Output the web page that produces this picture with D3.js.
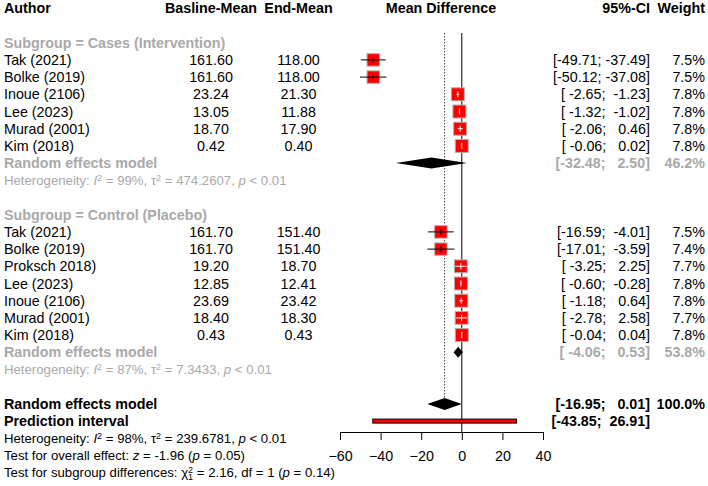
<!DOCTYPE html>
<html>
<head>
<meta charset="utf-8">
<script src="https://cdn.jsdelivr.net/npm/d3@7"></script>
<style>
  body { margin: 0; background: #fff; }
  text { font-family: "Liberation Sans", Arial, sans-serif; }
</style>
</head>
<body>
<div id="canvas"></div>
<script>
// subgroup 1: cases (intervention)
const casesAuthor = ["Tak (2021)", "Bolke (2019)", "Inoue (2106)", "Lee (2023)", "Murad (2001)", "Kim (2018)"];
const casesBase = [161.60, 161.60, 23.24, 13.05, 18.70, 0.42];
const casesEnd = [118.00, 118.00, 21.30, 11.88, 17.90, 0.40];
const casesMD = [-43.60, -43.60, -1.94, -1.17, -0.80, -0.02];
const casesLower = [-49.71, -50.12, -2.65, -1.32, -2.06, -0.06];
const casesUpper = [-37.49, -37.08, -1.23, -1.02, 0.46, 0.02];
const casesWeight = [7.5, 7.5, 7.8, 7.8, 7.8, 7.8];

// subgroup 2: control (placebo)
const ctrlAuthor = ["Tak (2021)", "Bolke (2019)", "Proksch 2018)", "Lee (2023)", "Inoue (2106)", "Murad (2001)", "Kim (2018)"];
const ctrlBase = [161.70, 161.70, 19.20, 12.85, 23.69, 18.40, 0.43];
const ctrlEnd = [151.40, 151.40, 18.70, 12.41, 23.42, 18.30, 0.43];
const ctrlMD = [-10.30, -10.30, -0.50, -0.44, -0.27, -0.10, 0.00];
const ctrlLower = [-16.59, -17.01, -3.25, -0.60, -1.18, -2.78, -0.04];
const ctrlUpper = [-4.01, -3.59, 2.25, -0.28, 0.64, 2.58, 0.04];
const ctrlWeight = [7.5, 7.4, 7.7, 7.8, 7.8, 7.7, 7.8];

// pooled estimates: [estimate, lower, upper, weight]
const casesPooled = [-14.99, -32.48, 2.50, 46.2];
const ctrlPooled = [-1.77, -4.06, 0.53, 53.8];
const overallPooled = [-8.47, -16.95, 0.01, 100.0];
const predInterval = [-43.85, 26.91];

const xTicks = [-60, -40, -20, 0, 20, 40];

const width = 708;
const height = 486;
const grey = "#a9a9a9";
const fs = 14.3, fsSmall = 13.2;

const svg = d3.select("#canvas").append("svg")
  .attr("width", width)
  .attr("height", height);

const x = d3.scaleLinear().domain([-60, 40]).range([340, 543]);
const row = d3.scaleLinear().domain([0, 27]).range([8.3, 472.7]);

const colBase = 211, colEnd = 298.5, colCI = 650, colW = 705;

function txt(xp, yp, s, opt) {
  opt = opt || {};
  return svg.append("text")
    .attr("x", xp)
    .attr("y", yp)
    .attr("dy", "0.36em")
    .attr("text-anchor", opt.anchor || "start")
    .attr("font-size", opt.size || fs)
    .attr("font-weight", opt.bold ? "bold" : "normal")
    .attr("fill", opt.color || "#000")
    .attr("xml:space", "preserve")
    .style("white-space", "pre")
    .text(s);
}

function pad(v) {
  return v.toFixed(2).padStart(6, " ");
}
function ci(lo, hi) {
  return "[" + pad(lo) + "; " + pad(hi) + "]";
}

// rich text with italic / superscript pieces
function rich(xp, yp, parts, color) {
  const t = svg.append("text")
    .attr("x", xp).attr("y", yp).attr("dy", "0.36em")
    .attr("font-size", fsSmall)
    .attr("fill", color)
    .attr("xml:space", "preserve")
    .style("white-space", "pre");
  parts.forEach(p => {
    const ts = t.append("tspan").text(p.t);
    if (p.i) ts.attr("font-style", "italic");
    if (p.sup) ts.attr("font-size", 9).attr("baseline-shift", "45%");
    if (p.sub) ts.attr("font-size", 9).attr("baseline-shift", "-30%");
    if (p.dx) ts.attr("dx", p.dx);
  });
  return t;
}

// header
txt(4, row(0), "Author", { bold: true });
txt(colBase, row(0), "Basline-Mean", { bold: true, anchor: "middle" });
txt(colEnd, row(0), "End-Mean", { bold: true, anchor: "middle" });
txt(441, row(0), "Mean Difference", { bold: true, anchor: "middle" });
txt(colCI, row(0), "95%-CI", { bold: true, anchor: "end" });
txt(colW, row(0), "Weight", { bold: true, anchor: "end" });

// reference lines
svg.append("line")
  .attr("x1", x(0)).attr("x2", x(0))
  .attr("y1", 33).attr("y2", 432)
  .attr("stroke", "#000").attr("stroke-width", 1);
svg.append("line")
  .attr("x1", x(overallPooled[0])).attr("x2", x(overallPooled[0]))
  .attr("y1", 33).attr("y2", row(23) - 6)
  .attr("stroke", "#444").attr("stroke-width", 1)
  .attr("stroke-dasharray", "1.5,1.5");

const sizeScale = d3.scaleLinear().domain([0, 7.8]).range([0, 13]);

function studies(startRow, authors, base, end, md, lower, upper, weight) {
  const data = authors.map((a, i) => ({
    a, base: base[i], end: end[i], md: md[i], lo: lower[i], hi: upper[i], w: weight[i], r: startRow + i
  }));
  data.forEach(d => {
    const yy = row(d.r);
    txt(4, yy, d.a);
    txt(colBase, yy, d.base.toFixed(2), { anchor: "middle" });
    txt(colEnd, yy, d.end.toFixed(2), { anchor: "middle" });
    txt(colCI, yy, ci(d.lo, d.hi), { anchor: "end" });
    txt(colW, yy, d.w.toFixed(1) + "%", { anchor: "end" });

    const s = sizeScale(d.w);
    svg.append("rect")
      .attr("x", x(d.md) - s / 2).attr("y", yy - s / 2)
      .attr("width", s).attr("height", s)
      .attr("fill", "#ff0000")
      .attr("stroke", "#b0b0b0").attr("stroke-width", 1);
    const inside = (x(d.hi) - x(d.lo)) < s;
    const c = inside ? "#fff" : "#000";
    svg.append("line")
      .attr("x1", x(d.lo)).attr("x2", x(d.hi))
      .attr("y1", yy).attr("y2", yy)
      .attr("stroke", c).attr("stroke-width", 1);
    svg.append("line")
      .attr("x1", x(d.md)).attr("x2", x(d.md))
      .attr("y1", yy - 3).attr("y2", yy + 3)
      .attr("stroke", c).attr("stroke-width", 1);
  });
}

function diamond(r, p, h) {
  const yy = row(r);
  svg.append("path")
    .attr("d", `M${x(p[1])},${yy}L${x(p[0])},${yy - h}L${x(p[2])},${yy}L${x(p[0])},${yy + h}Z`)
    .attr("fill", "#000");
}

// subgroup 1
txt(4, row(2), "Subgroup = Cases (Intervention)", { bold: true, color: grey });
studies(3, casesAuthor, casesBase, casesEnd, casesMD, casesLower, casesUpper, casesWeight);
txt(4, row(9), "Random effects model", { bold: true, color: grey });
txt(colCI, row(9), ci(casesPooled[1], casesPooled[2]), { bold: true, color: grey, anchor: "end" });
txt(colW, row(9), casesPooled[3].toFixed(1) + "%", { bold: true, color: grey, anchor: "end" });
diamond(9, casesPooled, 5.5);
rich(4, row(10), [
  { t: "Heterogeneity: " }, { t: "I", i: true }, { t: "2", sup: true },
  { t: " = 99%, τ" }, { t: "2", sup: true }, { t: " = 474.2607, " }, { t: "p", i: true }, { t: " < 0.01" }
], grey);

// subgroup 2
txt(4, row(12), "Subgroup = Control (Placebo)", { bold: true, color: grey });
studies(13, ctrlAuthor, ctrlBase, ctrlEnd, ctrlMD, ctrlLower, ctrlUpper, ctrlWeight);
txt(4, row(20), "Random effects model", { bold: true, color: grey });
txt(colCI, row(20), ci(ctrlPooled[1], ctrlPooled[2]), { bold: true, color: grey, anchor: "end" });
txt(colW, row(20), ctrlPooled[3].toFixed(1) + "%", { bold: true, color: grey, anchor: "end" });
diamond(20, ctrlPooled, 5.5);
rich(4, row(21), [
  { t: "Heterogeneity: " }, { t: "I", i: true }, { t: "2", sup: true },
  { t: " = 87%, τ" }, { t: "2", sup: true }, { t: " = 7.3433, " }, { t: "p", i: true }, { t: " < 0.01" }
], grey);

// overall
txt(4, row(23), "Random effects model", { bold: true });
txt(colCI, row(23), ci(overallPooled[1], overallPooled[2]), { bold: true, anchor: "end" });
txt(colW, row(23), overallPooled[3].toFixed(1) + "%", { bold: true, anchor: "end" });
diamond(23, overallPooled, 6);

txt(4, row(24), "Prediction interval", { bold: true });
txt(colCI, row(24), ci(predInterval[0], predInterval[1]), { bold: true, anchor: "end" });
svg.append("rect")
  .attr("x", x(predInterval[0])).attr("y", row(24) - 2)
  .attr("width", x(predInterval[1]) - x(predInterval[0])).attr("height", 4)
  .attr("fill", "#ff0000").attr("stroke", "#000").attr("stroke-width", 1);

rich(4, row(25), [
  { t: "Heterogeneity: " }, { t: "I", i: true }, { t: "2", sup: true },
  { t: " = 98%, τ" }, { t: "2", sup: true }, { t: " = 239.6781, " }, { t: "p", i: true }, { t: " < 0.01" }
], "#000");
rich(4, row(26), [
  { t: "Test for overall effect: " }, { t: "z", i: true }, { t: " = -1.96 (" }, { t: "p", i: true }, { t: " = 0.05)" }
], "#000");
rich(4, row(27), [
  { t: "Test for subgroup differences: χ" }, { t: "2", sup: true }, { t: "1", sub: true, dx: -5 },
  { t: " = 2.16, df = 1 (" }, { t: "p", i: true }, { t: " = 0.14)" }
], "#000");

// axis
const axis = svg.append("g")
  .attr("transform", "translate(0,432)")
  .call(d3.axisBottom(x).tickValues(xTicks).tickSize(8).tickSizeOuter(0).tickPadding(11));
axis.selectAll("text")
  .attr("font-size", fs)
  .attr("font-family", "\"Liberation Sans\", Arial, sans-serif")
  .attr("fill", "#000");
axis.select(".domain").attr("stroke", "#000");
axis.selectAll(".tick line").attr("stroke", "#000");
</script>
</body>
</html>
